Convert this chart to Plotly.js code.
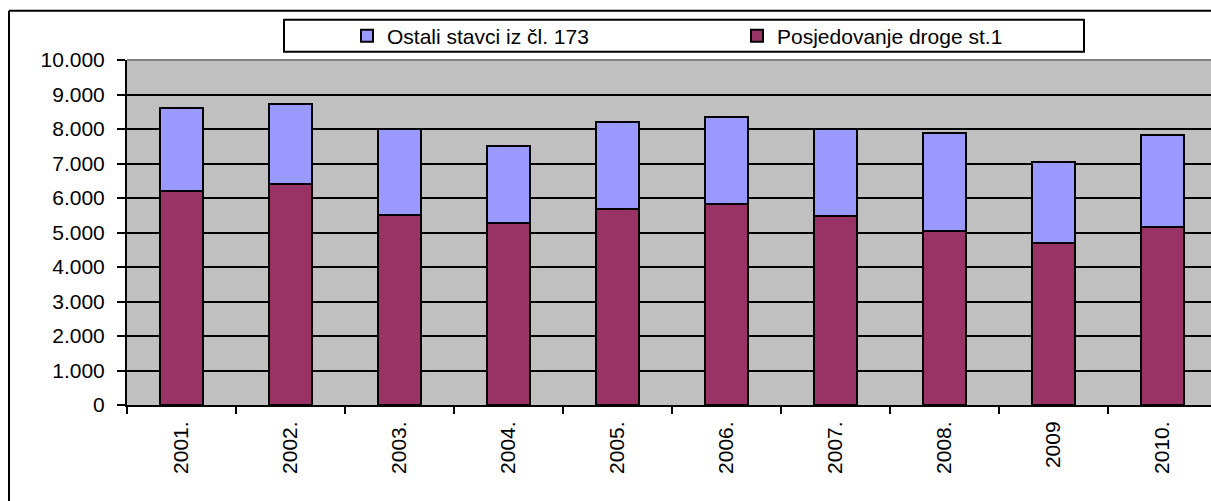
<!DOCTYPE html>
<html>
<head>
<meta charset="utf-8">
<script src="https://cdn.plot.ly/plotly-3.0.1.min.js"></script>
<style>
html,body{margin:0;padding:0;overflow:hidden;background:#fff;width:1211px;height:501px;}
#chart{width:1230px;height:501px;}
</style>
</head>
<body>
<div id="chart"></div>
<script>
var years = ["2001.", "2002.", "2003.", "2004.", "2005.", "2006.", "2007.", "2008.", "2009", "2010."];
var posjedovanje = [6190, 6420, 5510, 5280, 5670, 5820, 5490, 5050, 4710, 5160];
var ostali = [2430, 2300, 2480, 2240, 2540, 2520, 2500, 2830, 2340, 2660];
var yTicks = [0, 1000, 2000, 3000, 4000, 5000, 6000, 7000, 8000, 9000, 10000];
var nameOstali = "Ostali stavci iz čl. 173";
var namePosj = "Posjedovanje droge st.1";

var FONT = "Liberation Sans, Arial, sans-serif";
var W = 1230, H = 501, ML = 127, MR = 13, MT = 60, MB = 95.5;
var PW = W - ML - MR, PH = H - MT - MB;
function px(x){ return (x - ML) / PW; }
function py(y){ return (H - MB - y) / PH; }

var traces = [
  {type: "bar", name: namePosj, x: years, y: posjedovanje,
   marker: {color: "#993366", line: {color: "#000000", width: 2}}, hoverinfo: "skip"},
  {type: "bar", name: nameOstali, x: years, y: ostali,
   marker: {color: "#9999FF", line: {color: "#000000", width: 2}}, hoverinfo: "skip"}
];

var layout = {
  width: W, height: H,
  margin: {l: ML, r: MR, t: MT, b: MB, pad: 0},
  paper_bgcolor: "#ffffff",
  plot_bgcolor: "#C0C0C0",
  barmode: "stack",
  bargap: 0.6,
  separators: ",.",
  font: {family: FONT, size: 21, color: "#000000"},
  showlegend: true,
  legend: {
    orientation: "h", traceorder: "reversed",
    x: px(347), xanchor: "left", y: py(36), yanchor: "middle",
    bgcolor: "rgba(0,0,0,0)", borderwidth: 0,
    entrywidth: 345, entrywidthmode: "pixels",
    font: {family: FONT, size: 21, color: "#000000"}
  },
  xaxis: {
    type: "category",
    tickangle: -90,
    ticks: "outside", tickson: "boundaries", ticklen: 7, tickwidth: 2, tickcolor: "#000000",
    showline: true, linecolor: "#000000", linewidth: 2,
    showgrid: false, zeroline: false,
    tickfont: {family: FONT, size: 21, color: "#000000"},
    ticklabelstandoff: 6
  },
  yaxis: {
    range: [0, 10000],
    tickvals: yTicks, tickformat: ",d",
    ticks: "outside", ticklen: 8, tickwidth: 2, tickcolor: "#000000",
    showline: true, linecolor: "#000000", linewidth: 2,
    showgrid: true, gridcolor: "#000000", gridwidth: 2,
    zeroline: false,
    tickfont: {family: FONT, size: 21, color: "#000000"},
    ticklabelstandoff: 8
  },
  shapes: [
    {type: "line", xref: "paper", yref: "paper", x0: 0, x1: 1, y0: 1, y1: 1,
     line: {color: "#808080", width: 2}, layer: "above"},
    {type: "rect", xref: "paper", yref: "paper", x0: px(284), x1: px(1084), y0: py(51.7), y1: py(19.7),
     line: {color: "#000000", width: 2}, fillcolor: "#ffffff", layer: "below"},
    {type: "line", xref: "paper", yref: "paper", x0: px(9), x1: px(9), y0: py(10.7), y1: py(520),
     line: {color: "#000000", width: 2}},
    {type: "line", xref: "paper", yref: "paper", x0: px(9), x1: px(1240), y0: py(10.7), y1: py(10.7),
     line: {color: "#000000", width: 2}}
  ]
};

Plotly.newPlot("chart", traces, layout, {staticPlot: true, displayModeBar: false});
</script>
</body>
</html>
